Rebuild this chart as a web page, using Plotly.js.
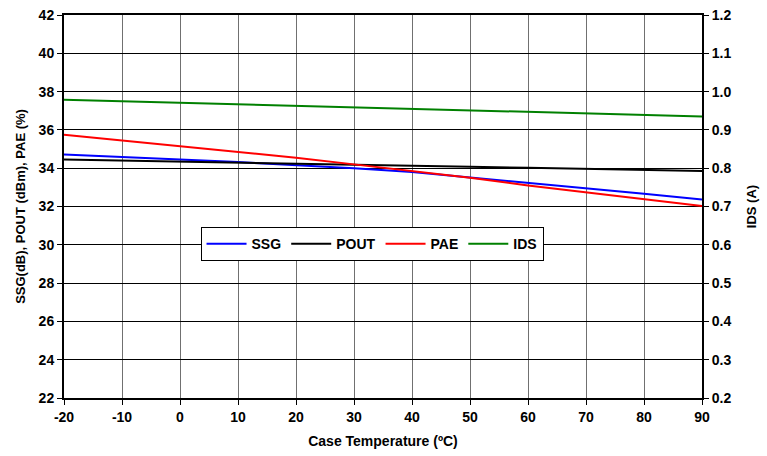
<!DOCTYPE html>
<html><head><meta charset="utf-8">
<script src="https://cdn.plot.ly/plotly-3.0.1.min.js"></script>
<style>html,body{margin:0;padding:0;background:#fff}#chart{width:767px;height:456px}</style>
</head><body><div id="chart"></div>
<script>
const temps = [-20,-10,0,10,20,30,40,50,60,70,80,90];
const ssg  = [34.72,34.6,34.45,34.32,34.17,34.0,33.8,33.52,33.25,32.95,32.67,32.37];
const pout = [34.46,34.4,34.35,34.29,34.24,34.18,34.13,34.07,34.02,33.96,33.91,33.85];
const pae  = [35.75,35.45,35.15,34.85,34.55,34.2,33.85,33.5,33.1,32.75,32.4,32.02];
const ids  = [0.979,0.975,0.971,0.967,0.963,0.959,0.955,0.951,0.947,0.943,0.939,0.935];
const xTicks = [-20,-10,0,10,20,30,40,50,60,70,80,90];

const F = 'Liberation Sans, Arial, sans-serif';
const traces = [
  {x: temps, y: ssg, name: 'SSG', mode: 'lines', line: {color: '#0000ff', width: 2}},
  {x: temps, y: pout, name: 'POUT', mode: 'lines', line: {color: '#000000', width: 2}},
  {x: temps, y: pae, name: 'PAE', mode: 'lines', line: {color: '#ff0000', width: 2}},
  {x: temps, y: ids, name: 'IDS', mode: 'lines', yaxis: 'y2', line: {color: '#008000', width: 2}}
];
const layout = {
  width: 767, height: 456,
  margin: {l: 64, r: 65, t: 15, b: 58},
  paper_bgcolor: '#fff', plot_bgcolor: '#fff',
  font: {family: F, size: 14, color: '#000'},
  showlegend: true,
  legend: {orientation: 'h', x: 0.214, y: 0.402, xanchor: 'left', yanchor: 'middle',
    bgcolor: '#fff', bordercolor: '#000', borderwidth: 1,
    font: {family: F, size: 14, color: '#000', weight: 'bold'},
    itemwidth: 40, tracegroupgap: 0},
  xaxis: {range: [-20, 90], tickvals: xTicks, ticktext: xTicks.map(String),
    showgrid: true, gridcolor: '#707070', gridwidth: 1, zeroline: false,
    showline: true, linecolor: '#000', linewidth: 2, mirror: true,
    ticks: 'outside', ticklen: 5, tickcolor: '#000',
    tickfont: {family: F, size: 14, weight: 'bold'},
    title: {text: 'Case Temperature (ºC)', font: {family: F, size: 14, weight: 'bold'}, standoff: 12}},
  yaxis: {range: [22, 42], dtick: 2, tick0: 22,
    showgrid: true, gridcolor: '#000', gridwidth: 1, zeroline: false,
    showline: true, linecolor: '#000', linewidth: 2,
    ticks: 'outside', ticklen: 5, tickcolor: '#000',
    tickfont: {family: F, size: 14, weight: 'bold'},
    title: {text: 'SSG(dB), POUT (dBm), PAE (%)', font: {family: F, size: 13, weight: 'bold'}, standoff: 10}},
  yaxis2: {range: [0.2, 1.2], dtick: 0.1, tick0: 0.2, tickformat: '.1f',
    overlaying: 'y', side: 'right', showgrid: false, zeroline: false,
    showline: true, linecolor: '#000', linewidth: 2,
    ticks: 'outside', ticklen: 5, tickcolor: '#000',
    tickfont: {family: F, size: 14, weight: 'bold'},
    title: {text: 'IDS (A)', font: {family: F, size: 13, weight: 'bold'}, standoff: 16}}
};
Plotly.newPlot('chart', traces, layout, {displayModeBar: false, staticPlot: true});
</script></body></html>
